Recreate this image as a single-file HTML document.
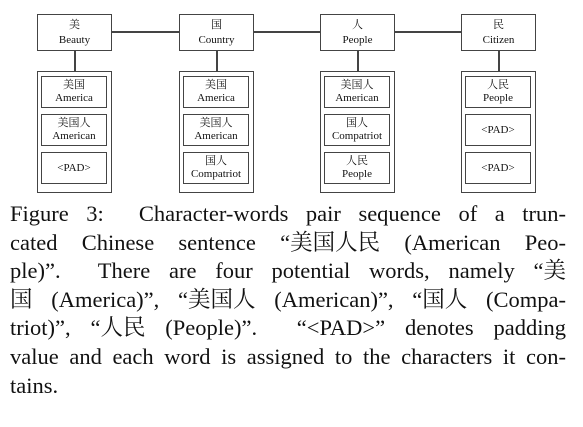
<!DOCTYPE html>
<html><head><meta charset="utf-8"><style>
body{margin:0;width:583px;height:427px;background:#fff;overflow:hidden;position:relative;font-family:"Liberation Serif","Noto Serif CJK SC",serif;color:#111}
.b{position:absolute;border:1.5px solid #444;box-sizing:border-box;text-align:center;font-size:11px;line-height:15px}
.o{position:absolute;border:1.5px solid #444;box-sizing:border-box}
.i{position:absolute;left:3px;width:66px;height:32px;border:1.5px solid #444;box-sizing:border-box;text-align:center;font-size:11px;line-height:13px;display:flex;flex-direction:column;justify-content:center}
.l{position:absolute;background:#444}
.cap{position:absolute;left:10px;width:556px;top:200px;font-size:22.5px;line-height:28.6px}
.cap div{text-align:justify;text-align-last:justify;text-justify:inter-word;white-space:nowrap;height:28.6px}
.cap div.last{text-align-last:left}
.cap span{display:inline-block}
</style></head><body>
<div class="l" style="left:112px;top:31px;width:349px;height:1.5px"></div>
<script>
const tops=[["美","Beauty"],["国","Country"],["人","People"],["民","Citizen"]];
const words=[[["美国","America"],["美国人","American"],["","<PAD>"]],[["美国","America"],["美国人","American"],["国人","Compatriot"]],[["美国人","American"],["国人","Compatriot"],["人民","People"]],[["人民","People"],["","<PAD>"],["","<PAD>"]]];
const xs=[37,179,320,461];
const esc=s=>s.replace(/</g,"&lt;").replace(/>/g,"&gt;");
let h="";
tops.forEach((t,k)=>{const x=xs[k];
h+=`<div class="b" style="left:${x}px;top:14px;width:75px;height:37px;padding-top:3px;background:#fff">${t[0]}<br>${t[1]}</div>`;
h+=`<div class="l" style="left:${x+37}px;top:51px;width:1.5px;height:20px"></div>`;
h+=`<div class="o" style="left:${x}px;top:71px;width:75px;height:122px">`;
[4,42,80].forEach((y,j)=>{const w=words[k][j];h+=`<div class="i" style="top:${y}px">${w[0]?`<b style="font-weight:normal">${w[0]}</b>`:""}<b style="font-weight:normal">${esc(w[1])}</b></div>`});
h+=`</div>`;});
document.write(h);
</script>
<div class="cap">
<div>Figure 3:&nbsp; Character-words pair sequence of a trun-</div>
<div>cated Chinese sentence <span>“美国人民</span> (American Peo-</div>
<div>ple)”.&nbsp; There are four potential words, namely <span>“美</span></div>
<div><span>国</span> (America)”, <span>“美国人</span> (American)”, <span>“国人</span> (Compa-</div>
<div>triot)”, <span>“人民</span> (People)”.&nbsp; “&lt;PAD&gt;” denotes padding</div>
<div>value and each word is assigned to the characters it con-</div>
<div class="last">tains.</div>
</div>
</body></html>
